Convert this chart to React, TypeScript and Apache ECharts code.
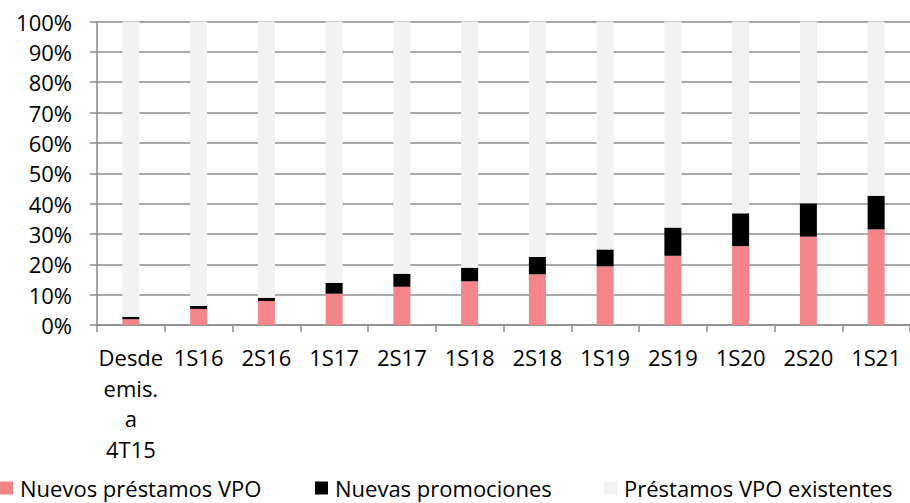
import React, { useEffect, useRef } from "react";
import * as echarts from "echarts";

const categories = ["Desde emis. a 4T15", "1S16", "2S16", "1S17", "2S17", "1S18", "2S18", "1S19", "2S19", "1S20", "2S20", "1S21"];
const nuevosPrestamos = [1.9, 5.3, 7.9, 10.3, 12.6, 14.4, 16.7, 19.3, 22.8, 26.0, 29.1, 31.5];
const nuevasPromociones = [0.8, 1.0, 1.1, 3.6, 4.3, 4.5, 5.7, 5.6, 9.3, 10.8, 11.0, 11.1];
const prestamosExistentes = nuevosPrestamos.map((v, i) => +(100 - v - nuevasPromociones[i]).toFixed(1));
const yTicks = [0, 10, 20, 30, 40, 50, 60, 70, 80, 90, 100];

const FONT = "Open Sans";
const GRAY = "#8c8c8c";

export default function App() {
  const ref = useRef<HTMLDivElement>(null);
  useEffect(() => {
    if (!ref.current) return;
    const chart = echarts.init(ref.current, null, { renderer: "svg" });
    const mkLegend = (name: string, left: number) => ({
      data: [name],
      left,
      top: 477,
      padding: 0,
      icon: "rect",
      itemWidth: 13,
      itemHeight: 13,
      itemGap: 0,
      textStyle: { fontFamily: FONT, fontSize: 22, color: "#000", lineHeight: 22, padding: [0, 0, 0, 2] },
      selectedMode: false,
    });
    chart.setOption({
      animation: false,
      backgroundColor: "#fff",
      grid: { left: 97, right: 0, top: 21.5, bottom: 178, containLabel: false },
      legend: [
        mkLegend("Nuevos préstamos VPO", 0),
        mkLegend("Nuevas promociones", 315),
        mkLegend("Préstamos VPO existentes", 604),
      ],
      xAxis: {
        type: "category",
        data: categories,
        boundaryGap: true,
        axisLine: { show: true, lineStyle: { color: GRAY, width: 1.5 } },
        axisTick: { show: true, length: 7, lineStyle: { color: GRAY, width: 1.5 } },
        axisLabel: {
          interval: 0,
          margin: 17,
          fontFamily: FONT,
          fontSize: 22,
          color: "#000",
          lineHeight: 30.5,
          formatter: (v: string) => v.split(" ").join("\n"),
        },
      },
      yAxis: {
        type: "value",
        min: 0,
        max: 100,
        interval: 10,
        axisLine: { show: true, lineStyle: { color: GRAY, width: 1.5 } },
        axisTick: { show: true, length: 7, lineStyle: { color: GRAY, width: 1.5 } },
        splitLine: { show: true, lineStyle: { color: GRAY, width: 1.5 } },
        axisLabel: {
          margin: 25,
          fontFamily: FONT,
          fontSize: 22,
          color: "#000",
          formatter: (v: number) => (yTicks.includes(v) ? v + "%" : ""),
        },
      },
      series: [
        { name: "Nuevos préstamos VPO", type: "bar", stack: "a", barWidth: 17, data: nuevosPrestamos, itemStyle: { color: "#f4868b" } },
        { name: "Nuevas promociones", type: "bar", stack: "a", barWidth: 17, data: nuevasPromociones, itemStyle: { color: "#000000" } },
        { name: "Préstamos VPO existentes", type: "bar", stack: "a", barWidth: 17, data: prestamosExistentes, itemStyle: { color: "#f2f2f2" } },
      ],
    });
    return () => chart.dispose();
  }, []);
  return <div ref={ref} style={{ width: 910, height: 503, position: "absolute", left: 0, top: 0 }} />;
}
